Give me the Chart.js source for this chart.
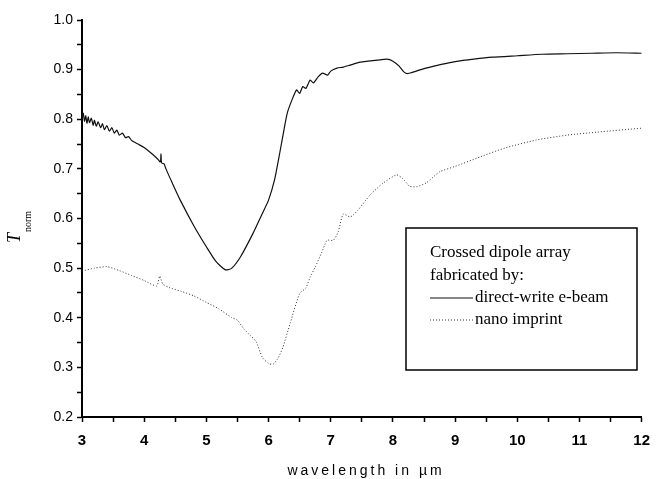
<!DOCTYPE html>
<html>
<head>
<meta charset="utf-8">
<script src="https://cdn.jsdelivr.net/npm/chart.js@4"></script>
<style>
  html, body { margin: 0; padding: 0; background: #fff; }
  #wrap { width: 660px; height: 479px; }
</style>
</head>
<body>
<div id="wrap"><canvas id="myChart" width="660" height="479"></canvas></div>
<script>
const eBeamX = [3.0, 3.02, 3.04, 3.06, 3.08, 3.1, 3.12, 3.15, 3.18, 3.2, 3.23, 3.26, 3.3, 3.33, 3.36, 3.4, 3.44, 3.48, 3.52, 3.56, 3.6, 3.65, 3.7, 3.75, 3.8, 3.9, 4.0, 4.1, 4.2, 4.26, 4.27, 4.28, 4.32, 4.35,
  4.45, 4.58, 4.8, 5.0, 5.15, 5.3, 5.4, 5.55, 5.75, 5.9, 6.0, 6.1, 6.18, 6.25, 6.3, 6.38, 6.45, 6.5, 6.55, 6.6, 6.67, 6.72, 6.8, 6.87, 6.95, 7.0,
  7.1, 7.2, 7.31, 7.47, 7.6, 7.75, 7.9, 8.0, 8.1, 8.18, 8.24, 8.3, 8.45, 8.6, 8.8, 9.0, 9.3, 9.6, 10.0, 10.4, 10.8, 11.2, 11.6, 12.0];
const eBeamY = [0.80, 0.812, 0.796, 0.807, 0.792, 0.805, 0.793, 0.802, 0.788, 0.798, 0.786, 0.795, 0.783, 0.791, 0.779, 0.787, 0.776, 0.783, 0.772, 0.778, 0.768, 0.772, 0.763, 0.765, 0.757, 0.75, 0.743, 0.733, 0.722, 0.714, 0.73, 0.712, 0.71, 0.70,
  0.672, 0.637, 0.585, 0.543, 0.514, 0.497, 0.499, 0.523, 0.57, 0.61, 0.637, 0.68, 0.732, 0.78, 0.812, 0.84, 0.859, 0.852, 0.866, 0.862, 0.879, 0.873, 0.886, 0.893, 0.889, 0.897,
  0.903, 0.905, 0.909, 0.915, 0.917, 0.919, 0.921, 0.917, 0.907, 0.895, 0.892, 0.894, 0.90, 0.905, 0.911, 0.916, 0.921, 0.925, 0.928, 0.931, 0.932, 0.933, 0.934, 0.933];

const imprintX = [3.0, 3.2, 3.4, 3.6, 3.8, 4.0, 4.2, 4.25, 4.3, 4.4, 4.6, 4.8, 5.0, 5.2, 5.4, 5.5, 5.6, 5.7, 5.8, 5.9, 6.0, 6.07, 6.15, 6.23, 6.35, 6.5, 6.6, 6.67, 6.75, 6.85, 6.94, 7.04, 7.12,
  7.2, 7.31, 7.36, 7.44, 7.63, 7.84, 8.06, 8.16, 8.27, 8.38, 8.54, 8.75, 9.0, 9.4, 9.8, 10.3, 10.8, 11.28, 12.0];
const imprintY = [0.494, 0.50, 0.503, 0.495, 0.485, 0.475, 0.464, 0.484, 0.468, 0.461, 0.453, 0.444, 0.431, 0.418, 0.401, 0.395, 0.378, 0.365, 0.352, 0.32, 0.308, 0.306, 0.318, 0.34, 0.39, 0.449, 0.46, 0.482, 0.502, 0.53, 0.556, 0.556, 0.573,
  0.609, 0.603, 0.607, 0.617, 0.647, 0.671, 0.688, 0.68, 0.665, 0.664, 0.672, 0.694, 0.705, 0.724, 0.742, 0.758, 0.768, 0.774, 0.782];

const legendTitle = ['Crossed dipole array', 'fabricated by:'];
const seriesNames = ['direct-write e-beam', 'nano imprint'];
const xTitle = 'wavelength in \u00b5m';

function toPoints(xs, ys) {
    let pts = [];
    for (let i = 0; i < xs.length; i++) {
        pts.push({x: xs[i], y: ys[i]});
    }
    return pts;
}

// boxed legend, spaced-out x title and the T_norm label, drawn by hand
const extras = {
    id: 'extras',
    afterDraw(chart) {
        const ctx = chart.ctx;
        ctx.save();
        const bx = 406, by = 228, bw = 231, bh = 142;
        ctx.strokeStyle = '#000';
        ctx.lineWidth = 1.5;
        ctx.strokeRect(bx, by, bw, bh);
        ctx.fillStyle = '#000';
        ctx.font = '17px "Liberation Serif", "DejaVu Serif", serif';
        ctx.textBaseline = 'middle';
        ctx.fillText(legendTitle[0], bx + 24, 253);
        ctx.fillText(legendTitle[1], bx + 24, 276);
        const rows = [298, 320];
        chart.data.datasets.forEach((ds, i) => {
            ctx.beginPath();
            ctx.strokeStyle = ds.borderColor;
            ctx.lineWidth = ds.borderWidth;
            ctx.setLineDash(ds.borderDash || []);
            ctx.moveTo(430, rows[i]);
            ctx.lineTo(473, rows[i]);
            ctx.stroke();
            ctx.setLineDash([]);
            ctx.fillText(ds.label, 475, rows[i]);
        });

        // x axis title with wide letter spacing
        ctx.font = '14px "Liberation Sans", Arial, sans-serif';
        ctx.letterSpacing = '3px';
        ctx.textAlign = 'center';
        ctx.fillText(xTitle, 366, 471);
        ctx.letterSpacing = '0px';

        // y axis title
        ctx.translate(15, 238);
        ctx.rotate(-Math.PI / 2);
        ctx.textAlign = 'center';
        ctx.font = 'italic 18px "Liberation Serif", serif';
        ctx.fillText('T', 0, 0);
        ctx.textAlign = 'left';
        ctx.font = '10px "Liberation Serif", serif';
        ctx.fillText('norm', 6, 13);
        ctx.restore();
    }
};

const totals = document.getElementById('myChart');

new Chart(totals, {
    type: 'line',
    data: {
        datasets: [{
            label: seriesNames[0],
            data: toPoints(eBeamX, eBeamY),
            borderColor: '#111',
            borderWidth: 1.2,
            pointRadius: 0,
            tension: 0.2,
        }, {
            label: seriesNames[1],
            data: toPoints(imprintX, imprintY),
            borderColor: '#333',
            borderWidth: 1,
            borderDash: [1, 2],
            pointRadius: 0,
            tension: 0.2,
        }]
    },
    options: {
        responsive: false,
        animation: false,
        layout: { padding: { left: 0, right: 18, top: 20, bottom: 0 } },
        plugins: {
            legend: { display: false },
            tooltip: { enabled: false },
        },
        scales: {
            x: {
                type: 'linear',
                min: 3,
                max: 12,
                border: { color: '#000', width: 2 },
                grid: { drawOnChartArea: false, tickLength: 5, color: '#000', tickWidth: 1.5 },
                ticks: {
                    stepSize: 0.5,
                    autoSkip: false,
                    maxRotation: 0,
                    color: '#000',
                    padding: 10,
                    font: { family: '"Liberation Sans", Arial, sans-serif', size: 15, weight: 'bold' },
                    callback: (v) => Number.isInteger(v) ? String(v) : '',
                },
                afterFit: (scale) => { scale.height = 62; },
            },
            y: {
                min: 0.2,
                max: 1.0,
                border: { color: '#000', width: 2 },
                grid: { drawOnChartArea: false, tickLength: 5, color: '#000', tickWidth: 1.5 },
                ticks: {
                    stepSize: 0.05,
                    autoSkip: false,
                    color: '#000',
                    padding: 4,
                    font: { family: '"Liberation Sans", Arial, sans-serif', size: 14 },
                    callback: (v) => {
                        const r = Math.round(v * 100);
                        return r % 10 === 0 ? (r / 100).toFixed(1) : '';
                    },
                },
                afterFit: (scale) => { scale.width = 82; },
            }
        }
    },
    plugins: [extras]
});
</script>
</body>
</html>
